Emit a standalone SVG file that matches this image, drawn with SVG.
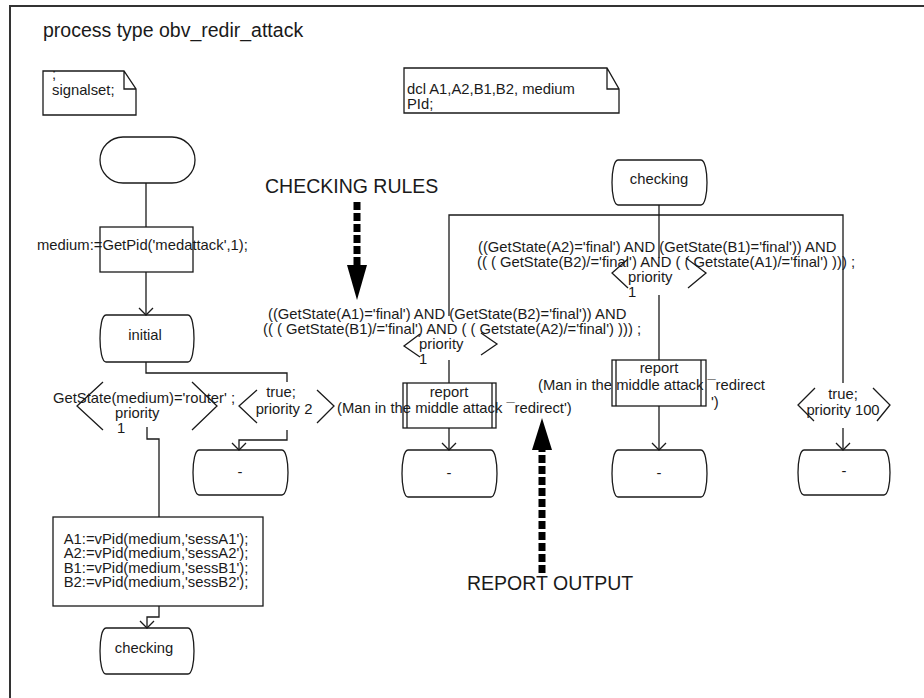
<svg xmlns="http://www.w3.org/2000/svg" width="924" height="698" viewBox="0 0 924 698">
  <style>
    text { font-family: "Liberation Sans", Arial, sans-serif; fill: #1a1a1a; }
    .t { font-size: 14.8px; }
    .big { font-size: 19.5px; }
    .mid { text-anchor: middle; }
    .sym { fill: none; stroke: #1a1a1a; stroke-width: 1.3; }
    .line { fill: none; stroke: #1a1a1a; stroke-width: 1.3; }
    .thick { fill: none; stroke: #000; stroke-width: 7; stroke-dasharray: 8 3; }
  </style>
  <defs>
    <marker id="open" viewBox="-8 -8 9 16" markerWidth="9" markerHeight="16" refX="0" refY="0" orient="auto" markerUnits="userSpaceOnUse">
      <path d="M-7,-7 L0,0 L-7,7" fill="none" stroke="#1a1a1a" stroke-width="1.3"/>
    </marker>
  </defs>
  <rect width="924" height="698" fill="#fff"/>

  <!-- process frame (right and bottom sides run past the page) -->
  <g id="frame">
    <path d="M10,704 V6 H930" fill="none" stroke="#333" stroke-width="2"/>
    <text class="big" x="43" y="37">process type obv_redir_attack</text>
  </g>

  <!-- text symbols -->
  <g id="note-signalset">
    <path class="sym" d="M43,71 H124 L136,89 V115 H43 Z M124,71 V89 H136"/>
    <text class="t" x="52" y="79">;</text>
    <text class="t" x="52" y="95">signalset;</text>
  </g>
  <g id="note-dcl">
    <path class="sym" d="M404,68 H607 L619,89 V113 H404 Z M607,68 V89 H619"/>
    <text class="t" x="407" y="94">dcl A1,A2,B1,B2, medium</text>
    <text class="t" x="407" y="109">PId;</text>
  </g>

  <!-- connectors -->
  <g id="connectors">
    <path class="line" d="M146,183 V227"/>
    <path class="line" d="M146,272 V315" marker-end="url(#open)"/>
    <path class="line" d="M146,362 V373 H287 V382"/>
    <path class="line" d="M147,427 V439 H159 V517"/>
    <path class="line" d="M159,606 V617 H147 V628" marker-end="url(#open)"/>
    <path class="line" d="M287,430 V440 H239 V450" marker-end="url(#open)"/>
    <path class="line" d="M659,205 V258"/>
    <path class="line" d="M449,316 V215 H843 V383"/>
    <path class="line" d="M449,360 V383"/>
    <path class="line" d="M449,428 V450" marker-end="url(#open)"/>
    <path class="line" d="M659,295 V360"/>
    <path class="line" d="M659,406 V450" marker-end="url(#open)"/>
    <path class="line" d="M843,428 V450" marker-end="url(#open)"/>
  </g>

  <!-- left column -->
  <g id="start">
    <rect class="sym" x="100" y="137" width="95" height="46" rx="23" ry="23"/>
  </g>
  <g id="task-medium">
    <rect class="sym" x="100" y="227" width="93" height="45"/>
    <text class="t" x="37" y="250">medium:=GetPid('medattack',1);</text>
  </g>
  <g id="state-initial">
    <path class="sym" d="M106,315 H188 C196,315 196,362 188,362 H106 C98,362 98,315 106,315 Z"/>
    <text class="t mid" x="145" y="340">initial</text>
  </g>
  <g id="input-router">
    <path class="sym" d="M103,382 L77,406 L103,430 M192,382 L217,406 L192,430"/>
    <text class="t" x="53" y="403">GetState(medium)='router' ;</text>
    <text class="t" x="115" y="418">priority</text>
    <text class="t" x="117" y="433">1</text>
  </g>
  <g id="input-true-2">
    <path class="sym" d="M257,390 L239,406 L257,423 M317,390 L334,406 L317,423"/>
    <text class="t mid" x="281" y="397">true;</text>
    <text class="t mid" x="284" y="414">priority 2</text>
  </g>
  <g id="state-dash-1">
    <path class="sym" d="M199,450 H282 C290,450 290,495 282,495 H199 C191,495 191,450 199,450 Z"/>
    <text class="t mid" x="240" y="477">-</text>
  </g>
  <g id="task-sessions">
    <rect class="sym" x="53" y="517" width="210" height="89"/>
    <text class="t mid" x="156" y="543.5">A1:=vPid(medium,'sessA1');</text>
    <text class="t mid" x="156" y="558">A2:=vPid(medium,'sessA2');</text>
    <text class="t mid" x="156" y="572.5">B1:=vPid(medium,'sessB1');</text>
    <text class="t mid" x="156" y="587">B2:=vPid(medium,'sessB2');</text>
  </g>
  <g id="state-checking-next">
    <path class="sym" d="M106,628 H188 C196,628 196,674 188,674 H106 C98,674 98,628 106,628 Z"/>
    <text class="t mid" x="144" y="653">checking</text>
  </g>

  <!-- checking state and its branches -->
  <g id="state-checking">
    <path class="sym" d="M618,160 H701 C709,160 709,205 701,205 H618 C610,205 610,160 618,160 Z"/>
    <text class="t mid" x="659" y="184">checking</text>
  </g>
  <g id="input-rule-a1b2">
    <path class="sym" d="M420,334 L404,346 L420,357 M481,333 L497,344 L481,355"/>
    <text class="t" x="268" y="319">((GetState(A1)='final') AND (GetState(B2)='final')) AND</text>
    <text class="t" x="263" y="334">(( ( GetState(B1)/='final') AND ( ( Getstate(A2)/='final') ))) ;</text>
    <text class="t" x="419" y="349">priority</text>
    <text class="t" x="419" y="364">1</text>
  </g>
  <g id="report-1">
    <rect class="sym" x="403" y="383" width="93" height="45"/>
    <path class="sym" d="M407,383 V428 M492,383 V428"/>
    <text class="t mid" x="449" y="397">report</text>
    <text class="t" x="337" y="413">(Man in the middle attack ¯redirect')</text>
  </g>
  <g id="state-dash-2">
    <path class="sym" d="M408,450 H491 C499,450 499,497 491,497 H408 C400,497 400,450 408,450 Z"/>
    <text class="t mid" x="449" y="478">-</text>
  </g>
  <g id="input-rule-a2b1">
    <path class="sym" d="M628,259 L612,273 L628,288 M686,258 L706,273 L688,288"/>
    <text class="t" x="478" y="252">((GetState(A2)='final') AND (GetState(B1)='final')) AND</text>
    <text class="t" x="477" y="267">(( ( GetState(B2)/='final') AND ( ( Getstate(A1)/='final') ))) ;</text>
    <text class="t" x="628" y="282">priority</text>
    <text class="t" x="628" y="297">1</text>
  </g>
  <g id="report-2">
    <rect class="sym" x="612" y="360" width="94" height="46"/>
    <path class="sym" d="M616,360 V406 M701,360 V406"/>
    <text class="t mid" x="659" y="373">report</text>
    <text class="t" x="538" y="390">(Man in the middle attack ¯redirect</text>
    <text class="t" x="711" y="407">')</text>
  </g>
  <g id="state-dash-3">
    <path class="sym" d="M618,450 H701 C709,450 709,497 701,497 H618 C610,497 610,450 618,450 Z"/>
    <text class="t mid" x="659" y="478">-</text>
  </g>
  <g id="input-true-100">
    <path class="sym" d="M815,388 L798,405 L814,421 M873,388 L890,405 L877,421"/>
    <text class="t mid" x="843" y="399">true;</text>
    <text class="t mid" x="843" y="415">priority 100</text>
  </g>
  <g id="state-dash-4">
    <path class="sym" d="M804,450 H884 C892,450 892,495 884,495 H804 C796,495 796,450 804,450 Z"/>
    <text class="t mid" x="844" y="476">-</text>
  </g>

  <!-- callouts -->
  <g id="callout-rules">
    <text class="big" x="265" y="193">CHECKING RULES</text>
    <path class="thick" d="M357,202 V266"/>
    <path d="M347,265 H367 L357,300 Z" fill="#000"/>
  </g>
  <g id="callout-output">
    <text class="big" x="467" y="590">REPORT OUTPUT</text>
    <path class="thick" d="M542,573 V449"/>
    <path d="M532,450 H552 L542,418 Z" fill="#000"/>
  </g>
</svg>
